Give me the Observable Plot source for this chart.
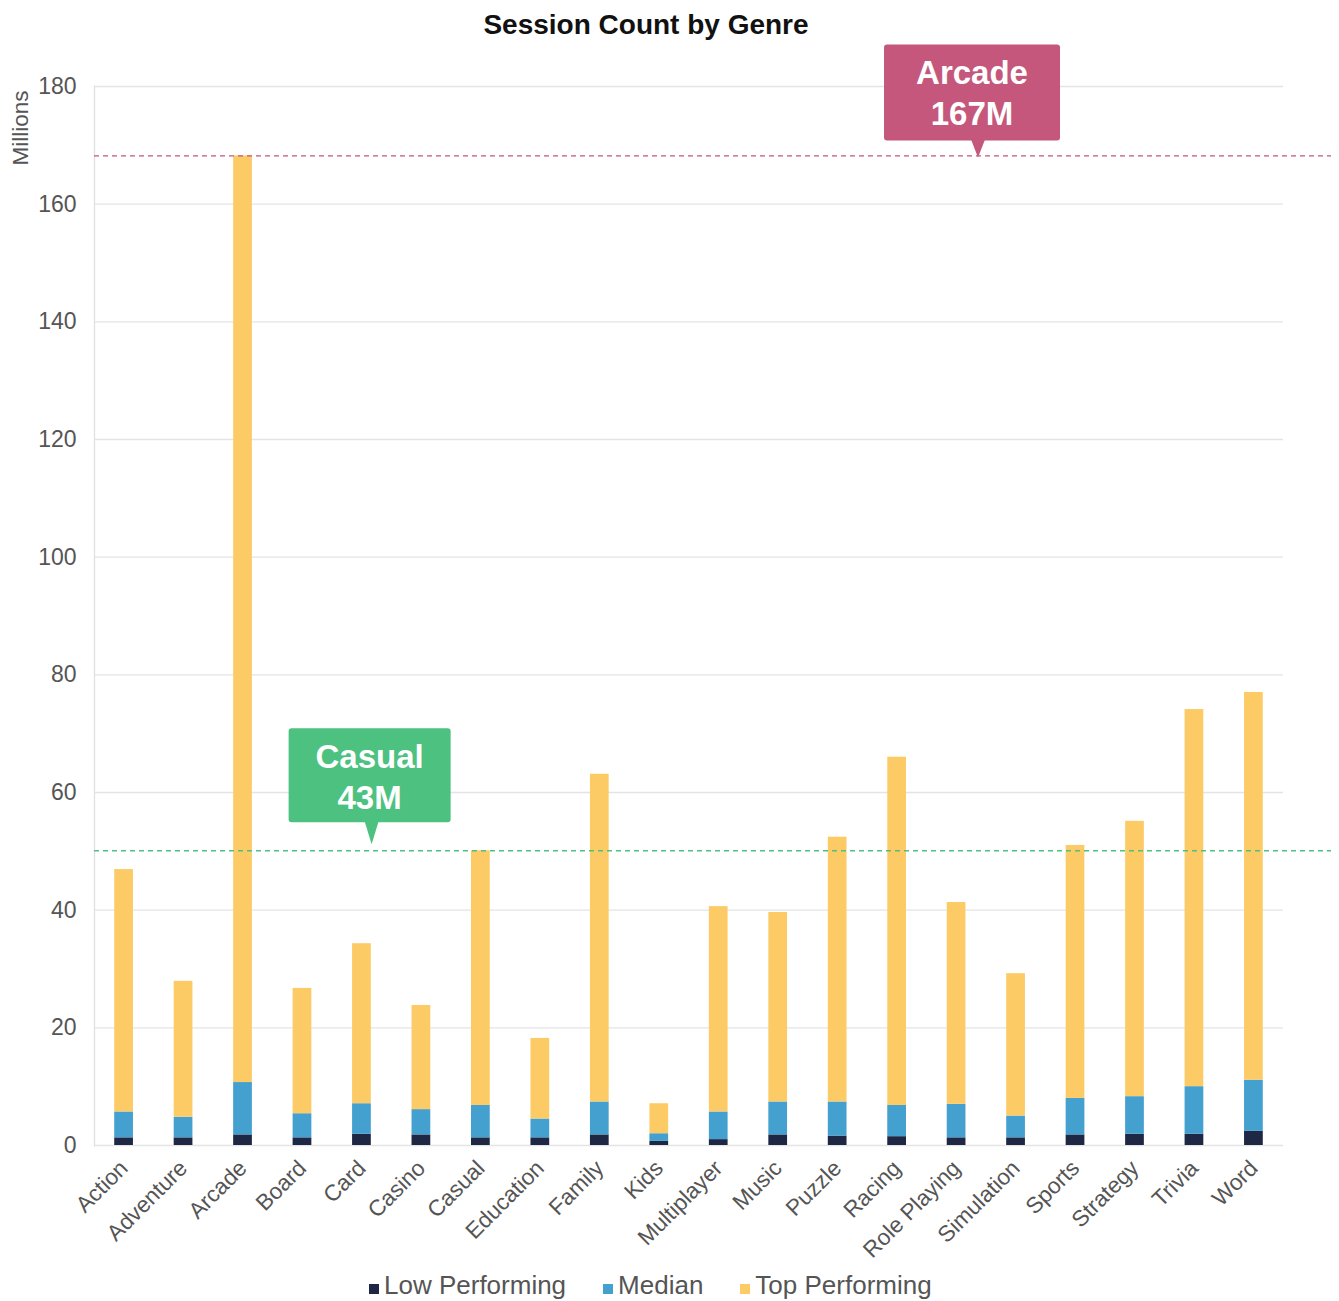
<!DOCTYPE html>
<html><head><meta charset="utf-8">
<script src="https://cdn.jsdelivr.net/npm/d3@7"></script>
<script src="https://cdn.jsdelivr.net/npm/@observablehq/plot@0.6"></script>
<style>
body{margin:0;background:#fff;font-family:"Liberation Sans",Arial,sans-serif;}
#wrap{width:1339px;}
#title{width:1292px;height:38px;padding-top:6px;line-height:38px;text-align:center;font-weight:bold;font-size:28px;color:#111;}
#chart svg{display:block;}
#legend{display:flex;justify-content:flex-start;padding-left:369px;font-size:26px;color:#555;height:31px;line-height:31px;}
.item{display:flex;align-items:baseline;margin-right:37px;}
.sw{display:inline-block;width:10px;height:10px;margin-right:5px;}
</style></head><body>
<div id="wrap"><div id="title">Session Count by Genre</div><div id="chart"></div><div id="legend"></div></div>
<script>
const genres = ["Action","Adventure","Arcade","Board","Card","Casino","Casual","Education","Family","Kids","Multiplayer","Music","Puzzle","Racing","Role Playing","Simulation","Sports","Strategy","Trivia","Word"];
const lowPerforming = [1.3,1.3,1.8,1.3,1.9,1.8,1.3,1.3,1.8,0.7,1.0,1.8,1.6,1.5,1.3,1.3,1.8,1.9,1.9,2.4];
const median = [4.4,3.5,8.9,4.1,5.2,4.3,5.5,3.2,5.6,1.3,4.7,5.6,5.8,5.3,5.7,3.7,6.2,6.4,8.1,8.7];
const topPerforming = [41.2,23.1,157.5,21.3,27.2,17.7,43.3,13.7,55.7,5.1,34.9,32.2,45.0,59.2,34.3,24.2,43.0,46.8,64.1,65.9];
const seriesNames = ["Low Performing","Median","Top Performing"];
const seriesColors = ["#1e2744","#43a0cf","#fdcb66"];
const yTicks = [0,20,40,60,80,100,120,140,160,180];
const calloutGenres = ["Arcade","Casual"];
const calloutTexts = ["167M","43M"];
const calloutColors = ["#c4577b","#4cc180"];

const rows = genres.flatMap((g,i)=>[
  {genre:g, series:seriesNames[0], value:lowPerforming[i]},
  {genre:g, series:seriesNames[1], value:median[i]},
  {genre:g, series:seriesNames[2], value:topPerforming[i]}
]);
const total = g => { const i = genres.indexOf(g); return lowPerforming[i]+median[i]+topPerforming[i]; };
const refValues = calloutGenres.map(total);

const plot = Plot.plot({
  width: 1339, height: 1226,
  marginLeft: 94, marginRight: 56, marginTop: 42, marginBottom: 125,
  style: {fontFamily: "Liberation Sans, Arial, sans-serif", fontSize: "20px", color: "#555", background: "transparent", overflow: "visible"},
  x: {domain: genres, paddingInner: 0.685, paddingOuter: 0.34, round: false, label: null},
  y: {domain: [0,180], label: null},
  color: {domain: seriesNames, range: seriesColors},
  marks: [
    Plot.ruleY(yTicks, {stroke: "#e4e4e4", strokeWidth: 1.3}),
    Plot.frame({anchor: "left", stroke: "#e0e0e0", strokeWidth: 1.3}),
    Plot.barY(rows, {x: "genre", y: "value", fill: "series"}),
    Plot.ruleY([refValues[0]], {stroke: calloutColors[0], strokeDasharray: "5,4", strokeWidth: 1.4}),
    Plot.ruleY([refValues[1]], {stroke: calloutColors[1], strokeDasharray: "5,4", strokeWidth: 1.4}),
    Plot.axisY({ticks: yTicks, tickSize: 0, tickPadding: 18, fontSize: 23, label: null}),
    Plot.axisX({tickSize: 0, tickRotate: -45, tickPadding: 19, fontSize: 22.5, label: null}),
    Plot.text(["Millions"], {frameAnchor: "top-left", rotate: -90, dx: -82, dy: 4, textAnchor: "end", fontSize: 22.5, fill: "#555"})
  ]
});
document.getElementById("chart").appendChild(plot);

const svg = d3.select(plot);
// extend the dashed reference lines to the right edge
svg.selectAll("g[stroke-dasharray] line, line[stroke-dasharray]").attr("x2", 1331);

// callouts
const ysc = plot.scale("y");
const yf = ysc.apply ? (v => ysc.apply(v)) : d3.scaleLinear().domain(ysc.domain).range(ysc.range);
const xr = plot.scale("x").range;
const layout = [
  {pos: 0.7435, w: 176, h: 96, gap: 15, tip: 2, shift: 6},
  {pos: 0.2335, w: 162, h: 94, gap: 28, tip: -6, shift: 2}
];
calloutGenres.forEach((g, k) => {
  const L = layout[k];
  const py = yf(refValues[k]);
  const px = xr[0] + L.pos * (xr[1] - xr[0]);
  const bx = px - L.shift - L.w / 2;
  const by = py - L.gap - L.h;
  const grp = svg.append("g");
  grp.append("rect").attr("x", bx).attr("y", by).attr("width", L.w).attr("height", L.h).attr("rx", 3).attr("fill", calloutColors[k]);
  grp.append("path").attr("d", `M${px-7},${by+L.h-1}L${px+7},${by+L.h-1}L${px},${py+L.tip}Z`).attr("fill", calloutColors[k]);
  const cx = bx + L.w / 2;
  [[g, 28], [calloutTexts[k], 69]].forEach(([t, off]) => {
    grp.append("text").attr("x", cx).attr("y", by + off + 12).attr("text-anchor", "middle")
      .attr("fill", "#fff").attr("font-weight", "bold").attr("font-size", 33)
      .attr("font-family", "Liberation Sans, Arial, sans-serif").text(t);
  });
});

// legend
const leg = document.getElementById("legend");
seriesNames.forEach((s, i) => {
  const it = document.createElement("div"); it.className = "item";
  const sw = document.createElement("span"); sw.className = "sw"; sw.style.background = seriesColors[i];
  const tx = document.createElement("span"); tx.textContent = s;
  it.appendChild(sw); it.appendChild(tx); leg.appendChild(it);
});
</script>
</body></html>
